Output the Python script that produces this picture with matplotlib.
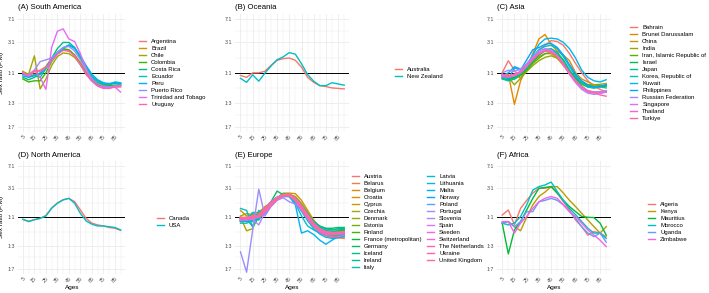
import numpy as np
import matplotlib.pyplot as plt

plt.rcParams['font.family'] = ['Liberation Sans', 'DejaVu Sans']

ages = [5, 10, 15, 20, 25, 30, 35, 40, 45, 50, 55, 60, 65, 70, 75, 80, 85, 90]

# sex ratio F:M per age group
south_america = {
    'Argentina':           [1.05, 0.85, 1.05, 1.1, 1.25, 1.6, 2.0, 2.3, 2.3, 1.9, 1.4, 1.0, 0.78, 0.66, 0.6, 0.58, 0.6, 0.62],
    'Brazil':              [0.95, 0.85, 0.95, 0.95, 1.25, 1.7, 2.1, 2.3, 2.2, 1.9, 1.45, 1.05, 0.82, 0.7, 0.63, 0.6, 0.62, 0.63],
    'Chile':               [1.05, 0.95, 1.85, 0.56, 0.8, 1.3, 1.8, 2.05, 2.0, 1.75, 1.35, 1.0, 0.8, 0.7, 0.65, 0.63, 0.63, 0.64],
    'Colombia':            [0.8, 0.72, 0.75, 0.75, 1.0, 1.5, 2.0, 2.4, 2.3, 1.9, 1.35, 0.95, 0.75, 0.66, 0.62, 0.62, 0.64, 0.65],
    'Costa Rica':          [0.85, 0.78, 0.85, 0.95, 1.2, 1.7, 2.4, 3.0, 3.0, 2.5, 1.7, 1.15, 0.85, 0.72, 0.66, 0.65, 0.68, 0.68],
    'Ecuador':             [0.95, 0.88, 0.92, 0.85, 1.15, 1.6, 2.1, 2.5, 2.7, 2.4, 1.8, 1.25, 0.9, 0.75, 0.68, 0.66, 0.72, 0.7],
    'Peru':                [0.9, 0.85, 0.9, 1.0, 1.2, 1.55, 2.0, 2.4, 2.75, 2.5, 1.85, 1.3, 0.95, 0.78, 0.7, 0.68, 0.7, 0.68],
    'Puerto Rico':         [0.9, 0.95, 1.1, 1.5, 1.6, 1.7, 2.1, 2.5, 2.6, 2.2, 1.6, 1.1, 0.82, 0.68, 0.62, 0.6, 0.63, 0.64],
    'Trinidad and Tobago': [1.0, 0.9, 1.1, 0.85, 0.55, 2.5, 4.5, 4.9, 3.4, 3.1, 2.0, 1.15, 0.75, 0.62, 0.58, 0.59, 0.6, 0.5],
    'Uruguay':             [1.0, 0.88, 1.1, 1.05, 1.2, 1.55, 1.95, 2.25, 2.2, 1.85, 1.35, 0.95, 0.74, 0.62, 0.57, 0.57, 0.6, 0.6],
}

oceania = {
    'Australia':   [0.91, 0.85, 1.0, 1.0, 1.06, 1.31, 1.57, 1.67, 1.71, 1.57, 1.23, 0.85, 0.71, 0.63, 0.61, 0.58, 0.57, 0.56],
    'New Zealand': [0.82, 0.71, 0.93, 0.74, 0.99, 1.28, 1.61, 1.78, 2.08, 1.96, 1.39, 0.94, 0.74, 0.63, 0.63, 0.7, 0.67, 0.64],
}

asia = {
    'Bahrain':                   [1.0, 1.55, 1.1, 0.8, 1.2, 1.7, 2.3, 2.7, 3.2, 3.1, 2.7, 2.0, 1.4, 1.0, 0.75, 0.62, 0.55, 0.5],
    'Brunei Darussalam':         [0.85, 0.95, 0.32, 0.75, 1.2, 2.0, 3.4, 4.0, 2.8, 2.2, 1.9, 1.55, 1.0, 0.8, 0.72, 0.65, 0.62, 0.65],
    'China':                     [0.9, 0.85, 0.85, 0.95, 1.2, 1.5, 1.8, 2.0, 2.0, 1.7, 1.3, 1.0, 0.8, 0.7, 0.65, 0.62, 0.62, 0.63],
    'India':                     [0.92, 0.85, 0.65, 0.82, 1.05, 1.3, 1.55, 1.75, 1.85, 1.7, 1.4, 1.05, 0.82, 0.7, 0.65, 0.65, 0.66, 0.68],
    'Iran, Islamic Republic of': [0.9, 0.85, 0.8, 0.9, 1.1, 1.4, 1.7, 2.0, 2.1, 1.8, 1.4, 1.05, 0.8, 0.66, 0.6, 0.58, 0.6, 0.62],
    'Israel':                    [0.82, 0.78, 0.85, 0.95, 1.15, 1.5, 1.9, 2.2, 2.3, 2.0, 1.55, 1.1, 0.85, 0.7, 0.62, 0.6, 0.62, 0.63],
    'Japan':                     [0.8, 0.75, 0.8, 0.95, 1.2, 1.6, 2.0, 2.3, 2.4, 2.1, 1.6, 1.1, 0.8, 0.62, 0.52, 0.5, 0.5, 0.52],
    'Korea, Republic of':        [0.85, 0.82, 0.9, 1.0, 1.3, 1.8, 2.3, 2.6, 2.7, 2.4, 1.8, 1.25, 0.9, 0.7, 0.6, 0.58, 0.6, 0.58],
    'Kuwait':                    [0.9, 1.0, 1.25, 1.15, 1.3, 1.9, 2.8, 3.4, 3.5, 3.4, 3.0, 2.4, 1.7, 1.1, 0.85, 0.75, 0.72, 0.78],
    'Philippines':               [0.95, 0.8, 1.2, 1.1, 1.6, 2.3, 2.5, 2.8, 2.9, 2.5, 1.9, 1.35, 0.95, 0.75, 0.65, 0.6, 0.62, 0.65],
    'Russian Federation':        [1.0, 1.1, 1.05, 1.15, 1.4, 1.8, 2.2, 2.4, 2.3, 1.9, 1.35, 0.95, 0.7, 0.55, 0.48, 0.46, 0.47, 0.5],
    'Singapore':                 [0.92, 0.9, 0.95, 1.05, 1.3, 1.7, 2.1, 2.3, 2.2, 1.85, 1.4, 1.0, 0.75, 0.6, 0.52, 0.5, 0.5, 0.52],
    'Thailand':                  [0.88, 0.85, 0.9, 1.0, 1.25, 1.6, 2.0, 2.2, 2.1, 1.8, 1.35, 0.95, 0.72, 0.58, 0.5, 0.48, 0.5, 0.5],
    'Turkiye':                   [0.95, 0.9, 0.95, 1.05, 1.3, 1.65, 2.0, 2.2, 2.15, 1.85, 1.4, 1.0, 0.75, 0.6, 0.52, 0.5, 0.45, 0.43],
}

north_america = {
    'Canada': [0.92, 0.86, 0.91, 0.96, 1.07, 1.42, 1.72, 1.95, 2.05, 1.81, 1.32, 0.96, 0.8, 0.75, 0.72, 0.68, 0.66, 0.61],
    'USA':    [0.93, 0.85, 0.915, 0.96, 1.05, 1.41, 1.7, 1.93, 2.05, 1.7, 1.16, 0.87, 0.77, 0.72, 0.72, 0.7, 0.68, 0.62],
}

europe = {
    'Austria':                [0.9, 0.92, 0.95, 1.0, 1.25, 1.6, 2.0, 2.3, 2.3, 1.95, 1.45, 1.02, 0.76, 0.62, 0.56, 0.55, 0.56, 0.58],
    'Belarus':                [0.95, 0.88, 0.9, 1.05, 1.35, 1.75, 2.1, 2.3, 2.2, 1.85, 1.35, 0.95, 0.72, 0.58, 0.5, 0.47, 0.46, 0.45],
    'Belgium':                [1.0, 0.95, 1.0, 1.05, 1.25, 1.6, 2.0, 2.3, 2.35, 2.05, 1.55, 1.1, 0.8, 0.64, 0.57, 0.55, 0.56, 0.57],
    'Croatia':                [1.3, 1.05, 1.1, 1.15, 1.45, 1.8, 2.1, 2.5, 2.5, 2.45, 1.9, 1.3, 0.9, 0.68, 0.6, 0.56, 0.55, 0.56],
    'Cyprus':                 [0.9, 0.85, 1.2, 1.2, 1.5, 1.7, 2.0, 2.3, 2.4, 2.2, 1.7, 1.2, 0.85, 0.65, 0.55, 0.5, 0.5, 0.52],
    'Czechia':                [1.0, 0.6, 0.65, 1.15, 1.3, 1.6, 2.0, 2.3, 2.3, 1.95, 1.45, 1.0, 0.75, 0.6, 0.53, 0.52, 0.53, 0.55],
    'Denmark':                [1.05, 1.15, 1.1, 1.0, 1.2, 1.55, 1.95, 2.2, 2.2, 1.95, 1.5, 1.05, 0.8, 0.66, 0.6, 0.58, 0.58, 0.6],
    'Estonia':                [0.85, 0.9, 1.0, 1.1, 1.3, 1.65, 2.1, 2.35, 2.3, 1.9, 1.35, 0.95, 0.7, 0.58, 0.52, 0.5, 0.5, 0.5],
    'Finland':                [0.95, 0.95, 1.0, 1.05, 1.25, 1.6, 2.0, 2.3, 2.3, 2.0, 1.5, 1.05, 0.8, 0.66, 0.6, 0.58, 0.6, 0.62],
    'France (metropolitan)':  [0.95, 0.92, 0.98, 1.05, 1.25, 1.6, 2.0, 2.25, 2.25, 1.95, 1.5, 1.05, 0.78, 0.64, 0.58, 0.56, 0.57, 0.58],
    'Germany':                [0.85, 0.95, 0.7, 1.0, 1.3, 1.8, 2.7, 2.35, 2.3, 2.05, 1.55, 1.1, 0.85, 0.72, 0.66, 0.66, 0.68, 0.68],
    'Iceland':                [0.9, 0.85, 1.0, 0.9, 1.3, 1.7, 2.05, 2.2, 2.3, 2.0, 1.5, 1.1, 0.85, 0.7, 0.65, 0.62, 0.62, 0.63],
    'Ireland':                [0.95, 0.95, 0.85, 1.0, 1.3, 1.7, 2.1, 2.4, 2.4, 2.05, 1.5, 1.05, 0.8, 0.67, 0.62, 0.62, 0.65, 0.66],
    'Italy':                  [0.8, 0.8, 0.88, 0.95, 1.2, 1.55, 1.95, 2.3, 2.35, 2.1, 1.6, 1.15, 0.85, 0.68, 0.6, 0.57, 0.57, 0.58],
    'Latvia':                 [1.4, 1.3, 0.7, 1.3, 1.1, 1.6, 2.0, 2.2, 2.2, 1.7, 1.05, 0.72, 0.62, 0.55, 0.5, 0.48, 0.47, 0.48],
    'Lithuania':              [0.85, 0.9, 1.2, 1.05, 1.35, 1.8, 2.15, 2.3, 2.2, 1.8, 1.25, 0.88, 0.65, 0.53, 0.47, 0.45, 0.46, 0.48],
    'Malta':                  [0.9, 0.85, 1.0, 1.0, 1.3, 1.7, 2.1, 2.3, 2.2, 1.6, 0.55, 0.6, 0.52, 0.42, 0.36, 0.42, 0.48, 0.52],
    'Norway':                 [0.95, 0.9, 1.0, 1.05, 1.25, 1.6, 2.0, 2.25, 2.25, 1.95, 1.45, 1.02, 0.77, 0.63, 0.57, 0.55, 0.57, 0.58],
    'Poland':                 [0.9, 0.9, 0.95, 1.05, 1.3, 1.7, 2.1, 2.35, 2.3, 1.9, 1.35, 0.95, 0.72, 0.6, 0.54, 0.52, 0.52, 0.53],
    'Portugal':               [0.27, 0.125, 0.62, 2.9, 1.05, 1.5, 1.9, 2.1, 1.8, 1.65, 1.3, 0.95, 0.73, 0.6, 0.53, 0.52, 0.53, 0.55],
    'Slovenia':               [1.0, 0.95, 0.92, 0.75, 1.2, 1.6, 2.05, 2.3, 2.3, 2.0, 1.5, 1.05, 0.78, 0.63, 0.57, 0.55, 0.56, 0.57],
    'Spain':                  [0.95, 0.9, 0.95, 1.0, 1.2, 1.55, 1.95, 2.25, 2.3, 2.05, 1.55, 1.1, 0.8, 0.65, 0.58, 0.56, 0.56, 0.57],
    'Sweden':                 [0.9, 0.92, 1.0, 1.05, 1.25, 1.6, 2.0, 2.25, 2.25, 1.95, 1.45, 1.02, 0.77, 0.63, 0.57, 0.55, 0.56, 0.57],
    'Switzerland':            [1.0, 0.95, 1.0, 1.1, 1.3, 1.65, 2.05, 2.3, 2.3, 1.95, 1.45, 1.0, 0.75, 0.6, 0.54, 0.53, 0.54, 0.55],
    'The Netherlands':        [0.95, 1.0, 1.05, 1.0, 1.2, 1.55, 2.0, 2.35, 2.4, 2.05, 1.5, 1.05, 0.78, 0.63, 0.56, 0.54, 0.55, 0.56],
    'Ukraine':                [0.9, 0.95, 0.95, 1.1, 1.4, 1.8, 2.15, 2.35, 2.25, 1.85, 1.35, 0.95, 0.7, 0.57, 0.5, 0.48, 0.48, 0.5],
    'United Kingdom':         [1.0, 1.0, 1.05, 1.05, 1.25, 1.6, 2.0, 2.3, 2.35, 2.05, 1.55, 1.1, 0.8, 0.65, 0.58, 0.56, 0.57, 0.58],
}

africa = {
    'Algeria':  [1.09, 1.32, 0.75, 1.4, 1.9, 2.5, 3.0, 3.0, 3.2, 2.5, 1.8, 1.32, 0.9, 0.7, 0.51, 0.58, 0.55, 0.48],
    'Kenya':    [0.8, 0.85, 0.7, 0.6, 1.0, 1.6, 2.2, 2.6, 3.2, 3.2, 2.5, 1.9, 1.5, 1.16, 0.9, 0.7, 0.55, 0.7],
    'Mauritius': [0.8, 0.25, 0.62, 0.85, 1.32, 2.05, 3.0, 3.1, 3.2, 2.5, 1.9, 1.5, 1.24, 1.03, 1.0, 0.99, 0.8, 0.51],
    'Morocco':  [0.8, 0.75, 0.8, 1.03, 1.6, 2.8, 3.2, 3.4, 3.8, 2.65, 1.9, 1.4, 1.1, 0.85, 0.66, 0.55, 0.55, 0.45],
    'Uganda':   [0.8, 0.85, 0.7, 0.85, 1.24, 1.24, 1.8, 1.9, 2.05, 1.9, 1.6, 1.24, 0.96, 0.7, 0.55, 0.48, 0.55, 0.39],
    'Zimbabwe': [0.85, 0.85, 0.55, 0.8, 1.03, 1.4, 1.8, 2.05, 2.2, 2.05, 1.6, 1.24, 1.03, 0.8, 0.62, 0.51, 0.42, 0.33],
}

panels = [
    ('(A) South America', south_america),
    ('(B) Oceania', oceania),
    ('(C) Asia', asia),
    ('(D) North America', north_america),
    ('(E) Europe', europe),
    ('(F) Africa', africa),
]

ratio_ticks = [1/7, 1/3, 1, 3, 7]
ratio_labels = ['1:7', '1:3', '1:1', '3:1', '7:1']


def hue_colors(n):
    # ggplot2 default hue palette (hcl, c=100, l=65)
    Xn, Yn, Zn = 95.047, 100.0, 108.883
    un = 4 * Xn / (Xn + 15 * Yn + 3 * Zn)
    vn = 9 * Yn / (Xn + 15 * Yn + 3 * Zn)
    L, C = 65.0, 100.0
    out = []
    for h in np.linspace(15, 375, n + 1)[:n]:
        U = C * np.cos(np.deg2rad(h))
        V = C * np.sin(np.deg2rad(h))
        Y = Yn * ((L + 16) / 116) ** 3
        u = U / (13 * L) + un
        v = V / (13 * L) + vn
        X = 9.0 * Y * u / (4 * v)
        Z = -X / 3 - 5 * Y + 3 * Y / v
        M = np.array([[3.240479, -1.537150, -0.498535],
                      [-0.969256, 1.875992, 0.041556],
                      [0.055648, -0.204043, 1.057311]])
        rgb = M @ (np.array([X, Y, Z]) / 100)
        rgb = np.where(rgb > 0.0031308, 1.055 * np.abs(rgb) ** (1 / 2.4) - 0.055, 12.92 * rgb)
        out.append(tuple(np.clip(rgb, 0, 1)))
    return out


W, H = 709, 293
fig = plt.figure(figsize=(W / 100, H / 100), dpi=100)

# panel boxes in pixels: (left, right, top, bottom)
cols = [(18.0, 125.5), (235.3, 349.4), (497.0, 611.4)]
rows = [(13.6, 132.1), (160.8, 273.8)]
# legend anchor (key left x, vertical centre y) in pixels
leg_pos = [(139, 73), (395, 72.7), (630, 72.7), (156.7, 222.2), (351.7, 221.7), (648, 221.8)]

lo = np.log(1/7) - 0.05 * np.log(49)
hi = np.log(7) + 0.05 * np.log(49)

for i, (title, data) in enumerate(panels):
    r, c = divmod(i, 3)
    x0, x1 = cols[c]
    y0, y1 = rows[r]
    ax = fig.add_axes([x0 / W, 1 - y1 / H, (x1 - x0) / W, (y1 - y0) / H])
    colors = hue_colors(len(data))
    ax.axhline(1, color='black', lw=0.7, zorder=1)
    for (name, vals), col in zip(data.items(), colors):
        ax.plot(ages, vals, color=col, lw=1.0, label=name, zorder=2)

    ax.set_yscale('log')
    ax.set_ylim(np.exp(lo), np.exp(hi))
    ax.set_xlim(5 - 0.05 * 85, 90 + 0.05 * 85)
    ax.set_yticks(ratio_ticks)
    ax.set_yticklabels(ratio_labels)
    ax.set_yticks([np.exp(-1.5225), np.exp(-0.5493), np.exp(0.5493), np.exp(1.5225)], minor=True)
    ax.set_xticks(range(5, 86, 10))
    ax.set_xticklabels([str(a) for a in range(5, 86, 10)], rotation=45, ha='right', va='top',
                       rotation_mode='anchor')
    ax.set_xticks(range(10, 91, 10), minor=True)
    ax.yaxis.set_minor_formatter(plt.NullFormatter())
    ax.tick_params(which='both', length=0, labelsize=3.8, labelcolor='#4D4D4D')
    ax.tick_params(axis='y', pad=2.2)
    ax.tick_params(axis='x', pad=1.5)
    ax.grid(which='major', color='#EBEBEB', lw=0.6)
    ax.grid(which='minor', color='#EBEBEB', lw=0.35)
    ax.set_axisbelow(True)
    for s in ax.spines.values():
        s.set_visible(False)

    ax.set_title(title, loc='left', fontsize=5.6, pad=3)
    if c == 0:
        ax.set_ylabel('Sex ratio (F:M)', fontsize=4.6)
        ax.yaxis.set_label_coords(-0.13, 0.5)
    if r == 1:
        ax.set_xlabel('Ages', fontsize=4.6)
        ax.xaxis.set_label_coords(0.5, -0.1)

    lx, ly = leg_pos[i]
    ax.legend(loc='center left', bbox_to_anchor=(lx / W, 1 - ly / H),
              bbox_transform=fig.transFigure, frameon=False, fontsize=4.3,
              ncol=2 if len(data) > 20 else 1, borderpad=0, borderaxespad=0,
              handlelength=1.25, handletextpad=0.8, labelspacing=0.3,
              columnspacing=0.9)

fig.savefig('out.png', dpi=100)
